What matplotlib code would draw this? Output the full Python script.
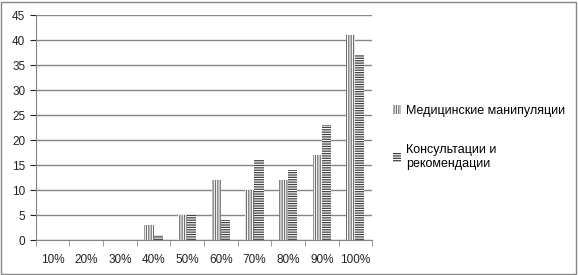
import numpy as np
import matplotlib
matplotlib.use('Agg')
import matplotlib.pyplot as plt
from matplotlib.patches import Patch, Rectangle

categories = ['10%', '20%', '30%', '40%', '50%', '60%', '70%', '80%', '90%', '100%']
med = [0, 0, 0, 3, 5, 12, 10, 12, 17, 41]
cons = [0, 0, 0, 1, 5, 4, 16, 14, 23, 37]
labels = ['Медицинские манипуляции', 'Консультации и\nрекомендации']

plt.rcParams['font.family'] = ['Liberation Sans', 'DejaVu Sans']
plt.rcParams['hatch.linewidth'] = 0.9

fig = plt.figure(figsize=(5.78, 2.75), dpi=100)
ax = fig.add_axes([0.062, 0.127, 0.582, 0.818])

x = np.arange(len(categories))
w = 0.27
hv = '|' * 7
hh = '-' * 7
ax.bar(x - w / 2, med, w, color='white', edgecolor='#707070', hatch=hv, linewidth=0, zorder=3)
ax.bar(x + w / 2, cons, w, color='white', edgecolor='#404040', hatch=hh, linewidth=0, zorder=3)

ax.set_ylim(0, 45)
ax.set_yticks(range(0, 46, 5))
ax.set_xlim(-0.5, len(categories) - 0.5)
ax.set_xticks(x)
ax.set_xticklabels(categories)
ax.set_xticks(np.arange(-0.5, len(categories), 1), minor=True)
ax.tick_params(axis='x', which='major', length=0, pad=10)
ax.tick_params(axis='x', which='minor', length=4, color='#868686')
ax.tick_params(axis='y', length=4, color='#868686')
ax.tick_params(labelsize=8.5, colors='#222222')
ax.grid(axis='y', color='#868686', linewidth=1, zorder=0)
for s in ['top', 'right']:
    ax.spines[s].set_visible(False)
for s in ['left', 'bottom']:
    ax.spines[s].set_color('#868686')

handles = [Patch(facecolor='white', edgecolor='#707070', hatch=hv, linewidth=0),
           Patch(facecolor='white', edgecolor='#404040', hatch=hh, linewidth=0)]
fig.legend(handles, labels, loc='center left', bbox_to_anchor=(0.66, 0.5),
           frameon=False, fontsize=9, handlelength=0.7, handleheight=0.7,
           handletextpad=0.4, labelspacing=2.2)

fig.patches.append(Rectangle((0.002, 0.004), 0.994, 0.99, transform=fig.transFigure,
                             fill=False, edgecolor='#868686', linewidth=1))

fig.savefig('out.png', dpi=100)
